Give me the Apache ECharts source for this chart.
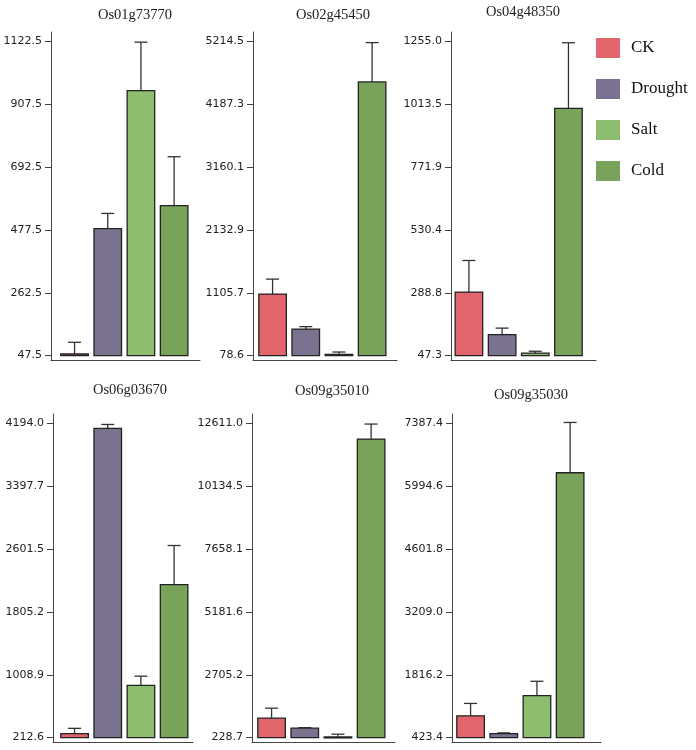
<!DOCTYPE html>
<html>
<head>
<meta charset="utf-8">
<script src="https://cdn.jsdelivr.net/npm/echarts@6/dist/echarts.min.js"></script>
<style>html,body{margin:0;padding:0;background:#fff}#c{width:696px;height:750px}</style>
</head>
<body>
<div id="c"></div>
<script>
// ---- data ----
const conditions = ['CK', 'Drought', 'Salt', 'Cold'];
const genes = ['Os01g73770', 'Os02g45450', 'Os04g48350', 'Os06g03670', 'Os09g35010', 'Os09g35030'];
const mean_Os01g73770 = [53, 482, 954, 561];
const sd_Os01g73770   = [40, 52, 166, 167];
const mean_Os02g45450 = [1085, 513, 100, 4553];
const sd_Os02g45450   = [244, 39, 37, 642];
const mean_Os04g48350 = [291.5, 128, 57, 998];
const sd_Os04g48350   = [121.5, 25, 7, 252];
const mean_Os06g03670 = [263, 4131, 874, 2150];
const sd_Os06g03670   = [67, 50, 117, 497];
const mean_Os09g35010 = [994, 599, 256, 11995];
const sd_Os09g35010   = [394, 20, 107, 591];
const mean_Os09g35030 = [907, 513, 1353, 6294];
const sd_Os09g35030   = [274, 15, 319, 1115];
const ticks_Os01g73770 = [47.5, 262.5, 477.5, 692.5, 907.5, 1122.5];
const ticks_Os02g45450 = [78.6, 1105.7, 2132.9, 3160.1, 4187.3, 5214.5];
const ticks_Os04g48350 = [47.3, 288.8, 530.4, 771.9, 1013.5, 1255.0];
const ticks_Os06g03670 = [212.6, 1008.9, 1805.2, 2601.5, 3397.7, 4194.0];
const ticks_Os09g35010 = [228.7, 2705.2, 5181.6, 7658.1, 10134.5, 12611.0];
const ticks_Os09g35030 = [423.4, 1816.2, 3209.0, 4601.8, 5994.6, 7387.4];

const means = [mean_Os01g73770, mean_Os02g45450, mean_Os04g48350, mean_Os06g03670, mean_Os09g35010, mean_Os09g35030];
const sds = [sd_Os01g73770, sd_Os02g45450, sd_Os04g48350, sd_Os06g03670, sd_Os09g35010, sd_Os09g35030];
const ticks = [ticks_Os01g73770, ticks_Os02g45450, ticks_Os04g48350, ticks_Os06g03670, ticks_Os09g35010, ticks_Os09g35030];

// ---- style / layout ----
const colors = ['#e0666b', '#7b7290', '#8dbd6e', '#79a35b'];
const layout = [
  {left: 51,  width: 149, top: 32,  xmin: -0.71, xmax: 3.78, tx: 130, ty: 3},
  {left: 253, width: 144, top: 32,  xmin: -0.59, xmax: 3.75, tx: 328, ty: 3},
  {left: 451, width: 145, top: 32,  xmin: -0.54, xmax: 3.83, tx: 518, ty: 0},
  {left: 53,  width: 140, top: 414, xmin: -0.65, xmax: 3.57, tx: 125, ty: 378},
  {left: 252, width: 143, top: 414, xmin: -0.59, xmax: 3.72, tx: 327, ty: 379},
  {left: 452, width: 149, top: 414, xmin: -0.56, xmax: 3.93, tx: 526, ty: 383}
];
const PLOT_H = 328;
const BAR_W = 0.83;
const CAP_W = 13;

const grid = [], xAxis = [], yAxis = [], series = [], title = [];
genes.forEach((g, k) => {
  const L = layout[k];
  const t = ticks[k];
  const step = (t[t.length - 1] - t[0]) / (t.length - 1);
  const base = t[0];
  grid.push({left: L.left, top: L.top, width: L.width, height: PLOT_H});
  title.push({
    text: g, left: L.tx, top: L.ty, textAlign: 'center',
    textStyle: {fontFamily: 'Liberation Serif', fontSize: 14.5, fontWeight: 'normal', color: '#222'}
  });
  xAxis.push({
    type: 'value', gridIndex: k, min: L.xmin, max: L.xmax,
    axisLine: {show: true, onZero: false, lineStyle: {color: '#444', width: 1}},
    axisTick: {show: false}, axisLabel: {show: false}, splitLine: {show: false}
  });
  yAxis.push({
    type: 'value', gridIndex: k,
    min: base - 0.07 * step, max: t[t.length - 1] + 0.15 * step,
    axisLine: {show: true, onZero: false, lineStyle: {color: '#444', width: 1}},
    axisTick: {show: true, length: 6, customValues: t, lineStyle: {color: '#444'}},
    axisLabel: {
      show: true, customValues: t, margin: 9,
      formatter: v => Number(v).toFixed(1),
      fontFamily: 'DejaVu Sans', fontSize: 11, color: '#222'
    },
    splitLine: {show: false}
  });
  const data = conditions.map((c, i) => [i, means[k][i], means[k][i] + sds[k][i]]);
  series.push({
    type: 'custom', xAxisIndex: k, yAxisIndex: k, data: data,
    encode: {x: 0, y: [1, 2]},
    silent: true,
    renderItem: function (params, api) {
      const i = api.value(0);
      const v = api.value(1);
      const e = api.value(2);
      const p0 = api.coord([i, base]);
      const p1 = api.coord([i, v]);
      const p2 = api.coord([i, e]);
      const w = api.size([BAR_W, 0])[0];
      return {
        type: 'group',
        children: [
          {type: 'line', shape: {x1: p1[0], y1: p1[1], x2: p2[0], y2: p2[1]},
           style: {stroke: '#333', lineWidth: 1.3}},
          {type: 'line', shape: {x1: p2[0] - CAP_W / 2, y1: p2[1], x2: p2[0] + CAP_W / 2, y2: p2[1]},
           style: {stroke: '#333', lineWidth: 1.3}},
          {type: 'rect', shape: {x: p1[0] - w / 2, y: p1[1], width: w, height: Math.max(p0[1] - p1[1], 1)},
           style: {fill: colors[i], stroke: '#222', lineWidth: 1.3}}
        ]
      };
    }
  });
});

// legend entries (empty series carrying the condition colours)
conditions.forEach((c, i) => {
  series.push({type: 'bar', name: c, xAxisIndex: 0, yAxisIndex: 0, data: [], itemStyle: {color: colors[i]}});
});

const chart = echarts.init(document.getElementById('c'), null, {renderer: 'canvas'});
chart.setOption({
  animation: false,
  backgroundColor: '#fff',
  title: title,
  grid: grid,
  xAxis: xAxis,
  yAxis: yAxis,
  legend: {
    data: conditions, orient: 'vertical', left: 596, top: 38, padding: 0,
    icon: 'rect', itemWidth: 24, itemHeight: 20, itemGap: 21,
    selectedMode: false,
    textStyle: {fontFamily: 'Liberation Serif', fontSize: 17, color: '#111', padding: [0, 0, 0, 6]}
  },
  series: series
});
</script>
</body>
</html>
